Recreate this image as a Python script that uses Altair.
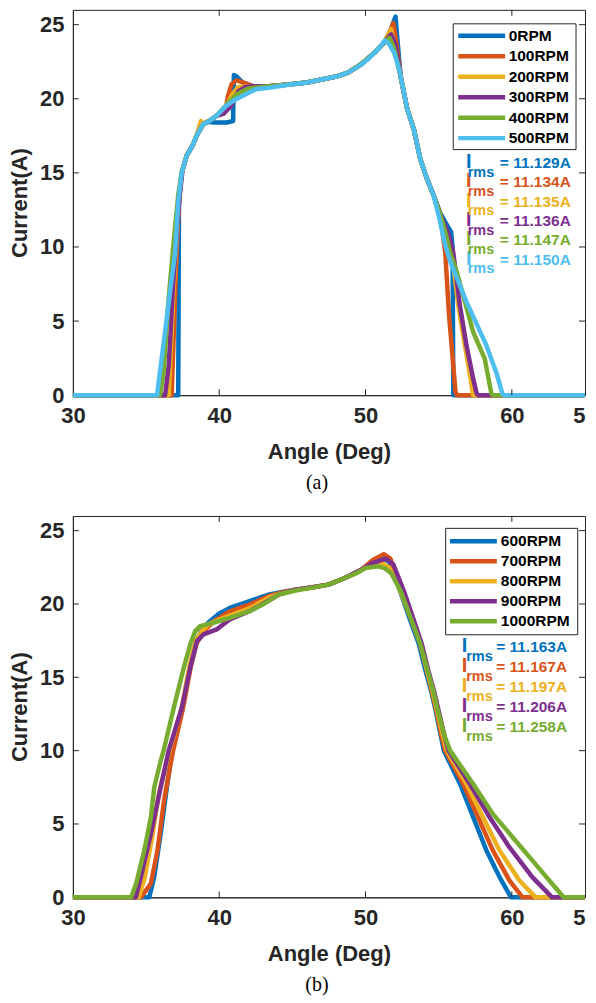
import altair as alt
import pandas as pd

# ---------------- Panel (a) data ----------------
A_NAMES = ["0RPM", "100RPM", "200RPM", "300RPM", "400RPM", "500RPM"]
A_COLORS = ["#0072BD", "#D95319", "#EDB120", "#7E2F8E", "#77AC30", "#4DBEEE"]
A_IRMS = ["= 11.129A", "= 11.134A", "= 11.135A", "= 11.136A", "= 11.147A", "= 11.150A"]

A0_X = [30, 37.2, 37.25, 37.43, 37.77, 38.22, 38.45, 38.9, 39.34, 39.6, 40.5, 40.95, 41.0, 41.2, 41.6, 42.3, 43.4, 44.75, 46.0, 47.0, 48.0, 48.8, 49.7, 50.6, 51.28, 51.7, 52.05, 52.18, 52.4, 52.85, 53.3, 53.75, 54.2, 54.65, 55.1, 55.5, 55.85, 55.95, 56.0, 65]
A0_Y = [0, 0, 13.0, 15.0, 16.15, 16.93, 17.5, 18.28, 18.45, 18.4, 18.4, 18.5, 21.6, 21.5, 21.1, 20.85, 20.85, 20.97, 21.1, 21.3, 21.5, 21.76, 22.33, 23.1, 23.8, 24.6, 25.55, 24.0, 21.5, 19.3, 17.95, 15.9, 14.6, 13.5, 12.3, 11.6, 11.0, 10.0, 0, 0]

A1_X = [30, 36.75, 37.1, 37.25, 37.43, 37.77, 38.22, 38.45, 38.9, 39.34, 39.8, 40.3, 40.45, 40.6, 40.85, 41.2, 41.6, 42.3, 43.4, 44.75, 46.0, 47.0, 48.0, 48.8, 49.7, 50.6, 51.28, 51.65, 51.9, 52.05, 52.4, 52.85, 53.3, 53.75, 54.2, 54.65, 55.1, 55.45, 55.7, 56.15, 56.25, 65]
A1_Y = [0, 0, 10.0, 13.0, 15.0, 16.15, 16.93, 17.5, 18.28, 18.51, 18.84, 19.0, 19.3, 20.2, 21.0, 21.25, 21.1, 20.85, 20.85, 20.97, 21.1, 21.3, 21.5, 21.76, 22.33, 23.1, 23.8, 24.5, 25.1, 24.2, 21.5, 19.3, 17.95, 15.9, 14.6, 13.5, 12.2, 9.6, 5.5, 0.2, 0, 0]

A2_X = [30, 36.55, 36.9, 37.15, 37.3, 37.43, 37.77, 38.22, 38.45, 38.75, 38.9, 39.1, 39.34, 39.8, 40.4, 40.9, 41.3, 42.3, 43.4, 44.75, 46.0, 47.0, 48.0, 48.8, 49.7, 50.6, 51.28, 51.75, 52.0, 52.4, 52.85, 53.3, 53.75, 54.2, 54.65, 55.1, 55.45, 55.9, 56.35, 56.8, 57.2, 57.35, 65]
A2_Y = [0, 0, 7.5, 11.5, 13.8, 15.0, 16.15, 16.93, 17.5, 18.5, 18.3, 18.45, 18.51, 18.84, 19.3, 20.3, 20.8, 20.85, 20.85, 20.97, 21.1, 21.3, 21.5, 21.76, 22.33, 23.1, 23.8, 24.7, 23.5, 21.5, 19.3, 17.95, 15.9, 14.6, 13.5, 12.2, 11.0, 9.6, 6.0, 3.3, 1.0, 0, 0]

A3_X = [30, 36.3, 36.55, 36.85, 37.1, 37.3, 37.5, 37.8, 38.22, 38.45, 38.9, 39.34, 39.8, 40.3, 40.8, 41.3, 41.8, 42.3, 43.4, 44.75, 46.0, 47.0, 48.0, 48.8, 49.7, 50.6, 51.28, 51.75, 52.05, 52.4, 52.85, 53.3, 53.75, 54.2, 54.65, 55.1, 55.5, 55.75, 56.0, 56.45, 56.9, 57.36, 57.6, 57.7, 65]
A3_Y = [0, 0, 2.0, 7.5, 11.0, 13.5, 15.2, 16.2, 16.93, 17.5, 18.28, 18.51, 18.84, 19.0, 19.5, 20.5, 20.8, 20.85, 20.85, 20.97, 21.1, 21.3, 21.5, 21.76, 22.33, 23.1, 23.8, 24.35, 23.6, 21.5, 19.3, 17.95, 15.9, 14.6, 13.5, 12.2, 11.3, 10.6, 9.6, 6.04, 3.35, 1.1, 0.1, 0, 0]

A4_X = [30, 35.95, 36.2, 36.5, 36.9, 37.2, 37.43, 37.77, 38.22, 38.45, 38.9, 39.34, 39.8, 40.5, 41.2, 42.0, 43.4, 44.75, 46.0, 47.0, 48.0, 48.8, 49.7, 50.6, 51.28, 51.65, 51.95, 52.4, 52.85, 53.3, 53.75, 54.2, 54.65, 55.1, 55.45, 55.8, 56.24, 57.36, 58.15, 58.6, 58.7, 65]
A4_Y = [0, 0, 1.5, 6.0, 10.5, 13.5, 15.0, 16.15, 16.93, 17.5, 18.28, 18.51, 18.84, 19.6, 20.3, 20.7, 20.85, 20.97, 21.1, 21.3, 21.5, 21.76, 22.33, 23.1, 23.8, 24.1, 23.4, 21.5, 19.3, 17.95, 15.9, 14.6, 13.5, 12.2, 11.0, 9.6, 8.3, 4.25, 2.45, 0.1, 0, 0]

A5_X = [30, 35.75, 36.98, 37.2, 37.43, 37.77, 38.22, 38.45, 38.9, 39.34, 39.8, 40.47, 41.15, 42.05, 42.5, 43.4, 44.75, 46.0, 47.0, 48.0, 48.8, 49.7, 50.15, 50.6, 51.0, 51.33, 51.6, 51.96, 52.3, 52.85, 53.3, 53.75, 54.2, 54.65, 55.05, 55.45, 55.8, 56.9, 58.2, 58.95, 59.35, 59.45, 65]
A5_Y = [0, 0, 9.6, 13.0, 15.0, 16.15, 16.93, 17.5, 18.28, 18.51, 18.84, 19.52, 19.97, 20.42, 20.64, 20.75, 20.95, 21.1, 21.3, 21.5, 21.76, 22.3, 22.66, 23.1, 23.5, 23.94, 23.7, 23.1, 22.0, 19.3, 17.95, 15.9, 14.6, 13.5, 11.9, 10.1, 9.0, 6.3, 3.5, 1.5, 0.1, 0, 0]

# ---------------- Panel (b) data ----------------
B_NAMES = ["600RPM", "700RPM", "800RPM", "900RPM", "1000RPM"]
B_COLORS = ["#0072BD", "#D95319", "#EDB120", "#7E2F8E", "#77AC30"]
B_IRMS = ["= 11.163A", "= 11.167A", "= 11.197A", "= 11.206A", "= 11.258A"]

B0_X = [30, 35.22, 35.56, 36.0, 36.45, 36.79, 37.5, 38.0, 38.4, 38.85, 39.37, 40.0, 40.72, 42.07, 43.42, 44.55, 45.22, 46.3, 47.46, 48.59, 49.72, 50.5, 51.2, 51.6, 52.0, 52.35, 53.0, 53.65, 54.1, 54.5, 54.8, 55.15, 55.35, 56.46, 57.36, 58.26, 59.16, 59.94, 65]
B0_Y = [0, 0, 1.4, 4.33, 7.7, 10.0, 13.0, 15.7, 17.4, 18.3, 18.83, 19.35, 19.73, 20.19, 20.65, 20.87, 20.98, 21.12, 21.32, 21.77, 22.34, 22.9, 23.1, 22.9, 22.0, 20.9, 19.05, 17.25, 15.43, 14.0, 12.7, 11.0, 10.0, 7.73, 5.46, 3.2, 1.38, 0, 0]

B1_X = [30, 34.65, 35.33, 35.78, 36.23, 36.68, 36.85, 37.55, 38.05, 38.45, 38.9, 39.6, 40.72, 42.07, 43.42, 44.55, 45.22, 46.3, 47.46, 48.59, 49.72, 50.5, 51.25, 51.7, 52.1, 52.45, 53.1, 53.75, 54.2, 54.55, 54.85, 55.2, 55.45, 56.68, 57.69, 58.7, 59.83, 60.73, 65]
B1_Y = [0, 0, 0.93, 3.2, 6.6, 9.1, 10.0, 13.0, 15.7, 17.3, 18.1, 18.8, 19.5, 19.96, 20.55, 20.85, 20.98, 21.12, 21.32, 21.77, 22.34, 23.0, 23.4, 23.1, 22.0, 20.9, 19.05, 17.25, 15.43, 14.0, 12.7, 11.0, 10.0, 7.73, 5.46, 3.2, 1.16, 0, 0]

B2_X = [30, 34.5, 34.9, 35.4, 35.9, 36.6, 37.45, 37.95, 38.4, 38.85, 39.4, 40.72, 42.07, 43.42, 44.55, 45.22, 46.3, 47.46, 48.59, 49.72, 50.5, 51.1, 51.6, 52.0, 52.4, 53.1, 53.76, 54.21, 54.6, 54.9, 55.3, 55.56, 56.9, 58.03, 59.16, 60.5, 61.63, 65]
B2_Y = [0, 0, 1.3, 4.0, 7.2, 10.0, 13.0, 15.7, 17.5, 18.2, 18.7, 19.2, 19.7, 20.45, 20.8, 20.98, 21.12, 21.32, 21.77, 22.34, 22.7, 22.8, 22.5, 21.8, 20.8, 19.05, 17.25, 15.43, 14.0, 12.7, 11.0, 10.0, 7.73, 5.46, 3.2, 1.16, 0, 0]

B3_X = [30, 34.3, 34.65, 35.33, 36.0, 36.55, 37.45, 38.02, 38.48, 38.93, 39.83, 40.72, 42.07, 42.97, 44.09, 45.22, 46.3, 47.46, 48.59, 49.72, 50.5, 51.4, 51.9, 52.3, 52.65, 53.25, 53.85, 54.3, 54.7, 55.0, 55.4, 55.67, 57.13, 58.48, 59.83, 61.4, 62.75, 65]
B3_Y = [0, 0, 1.4, 4.33, 7.5, 10.0, 12.94, 15.66, 17.47, 17.93, 18.27, 18.94, 19.51, 20.0, 20.65, 20.98, 21.12, 21.32, 21.77, 22.34, 22.8, 23.1, 22.7, 21.7, 20.8, 19.05, 17.25, 15.43, 14.0, 12.7, 11.0, 10.0, 7.73, 5.46, 3.42, 1.38, 0, 0]

B4_X = [30, 33.98, 34.32, 34.88, 35.33, 35.56, 36.0, 36.2, 36.9, 37.58, 38.02, 38.36, 38.7, 39.6, 40.72, 42.07, 42.97, 44.09, 45.22, 46.3, 47.46, 48.59, 49.4, 50.0, 50.84, 51.29, 51.74, 52.41, 53.09, 53.76, 54.25, 54.65, 54.95, 55.4, 55.78, 57.36, 58.7, 60.05, 61.4, 62.75, 63.54, 65]
B4_Y = [0, 0, 0.93, 3.2, 5.46, 7.5, 9.3, 10.0, 12.94, 15.66, 17.25, 18.15, 18.49, 18.72, 19.05, 19.51, 19.96, 20.65, 20.92, 21.1, 21.32, 21.77, 22.1, 22.45, 22.57, 22.45, 22.11, 20.87, 19.05, 17.25, 15.43, 14.0, 12.7, 11.0, 10.0, 7.73, 5.69, 4.1, 2.52, 0.93, 0, 0]

X_TICKS = [30, 40, 50, 60, 65]
Y_TICKS = [0, 5, 10, 15, 20, 25]
INNER_X_TICKS = [40, 50, 60]
INNER_Y_TICKS = [5, 10, 15, 20, 25]

AXIS_COLOR = "#262626"
FONT = "Liberation Sans"


def panel(xs_list, ys_list, names, colors, irms, W, H, lay, caption, cap_offset):
    xscale = alt.Scale(domain=[30, 65], nice=False, zero=False)
    yscale = alt.Scale(domain=[0, 26], nice=False, zero=False)
    xaxis = alt.Axis(values=X_TICKS, labelExpr="datum.value == 65 ? '5' : datum.label",
                     labelAlign={"condition": {"test": "datum.value == 65", "value": "right"}, "value": "center"},
                     labelFlush=False, labelOverlap=False, ticks=False, grid=False,
                     domainColor=AXIS_COLOR, domainWidth=1,
                     labelFont=FONT, labelFontSize=22, labelFontWeight="bold", labelColor=AXIS_COLOR,
                     labelPadding=10, titleFont=FONT, titleFontSize=22, titleFontWeight="bold",
                     titleColor=AXIS_COLOR, titlePadding=15)
    yaxis = alt.Axis(values=Y_TICKS, ticks=False, grid=False, domainColor=AXIS_COLOR, domainWidth=1,
                     labelFont=FONT, labelFontSize=22, labelFontWeight="bold", labelColor=AXIS_COLOR,
                     labelPadding=9, titleFont=FONT, titleFontSize=22, titleFontWeight="bold",
                     titleColor=AXIS_COLOR, titlePadding=8)
    layers = []
    for k, (xs, ys, c) in enumerate(zip(xs_list, ys_list, colors)):
        df = pd.DataFrame({"x": xs, "y": ys, "i": list(range(len(xs)))})
        layers.append(
            alt.Chart(df).mark_line(color=c, strokeWidth=4.5, strokeJoin="round").encode(
                x=alt.X("x:Q", scale=xscale, axis=xaxis, title="Angle (Deg)"),
                y=alt.Y("y:Q", scale=yscale, axis=yaxis if k == 0 else None, title="Current(A)"),
                order=alt.Order("i:Q"),
            )
        )
    # inward ticks (bottom/top/left/right)
    xt = pd.DataFrame({"v": INNER_X_TICKS})
    yt = pd.DataFrame({"v": INNER_Y_TICKS})
    for y0, y1 in [(H, H - 6), (0, 6)]:
        layers.append(alt.Chart(xt).mark_rule(color=AXIS_COLOR, strokeWidth=1).encode(
            x=alt.X("v:Q", scale=xscale, axis=xaxis, title="Angle (Deg)"),
            y=alt.value(y0), y2=alt.value(y1)))
    for x0, x1 in [(0, 6), (W - 6, W)]:
        layers.append(alt.Chart(yt).mark_rule(color=AXIS_COLOR, strokeWidth=1).encode(
            y=alt.Y("v:Q", scale=yscale, axis=None),
            x=alt.value(x0), x2=alt.value(x1)))
    # legend box
    bx0, bx1, by0, by1 = lay["box"]
    layers.append(alt.Chart(pd.DataFrame({"a": [0]})).mark_rect(
        fill="white", stroke=AXIS_COLOR, strokeWidth=1).encode(
        x=alt.value(bx0), x2=alt.value(bx1), y=alt.value(by0), y2=alt.value(by1)))
    ldf = pd.DataFrame({"name": names, "color": colors, "irms": irms})
    rowscale = alt.Scale(type="point", domain=names, range=lay["rows"], padding=0)
    layers.append(alt.Chart(ldf).mark_rule(strokeWidth=4.5).encode(
        y=alt.Y("name:N", scale=rowscale, axis=None),
        x=alt.value(lay["lx0"]), x2=alt.value(lay["lx1"]),
        color=alt.Color("color:N", scale=None)))
    layers.append(alt.Chart(ldf).mark_text(
        align="left", baseline="middle", font=FONT, fontSize=15.5, fontWeight="bold", color="black").encode(
        y=alt.Y("name:N", scale=rowscale, axis=None),
        x=alt.value(lay["tx"]), text="name:N"))
    # Irms annotations
    iscale = alt.Scale(type="point", domain=names, range=lay["irows"], padding=0)
    sscale = alt.Scale(type="point", domain=names, range=lay["srows"], padding=0)
    layers.append(alt.Chart(ldf).mark_text(
        align="center", baseline="alphabetic", font=FONT, fontSize=20, fontWeight="bold").encode(
        y=alt.Y("name:N", scale=iscale, axis=None), x=alt.value(lay["ix"]),
        text=alt.value("I"), color=alt.Color("color:N", scale=None)))
    layers.append(alt.Chart(ldf).mark_text(
        align="left", baseline="alphabetic", font=FONT, fontSize=14.5, fontWeight="bold").encode(
        y=alt.Y("name:N", scale=sscale, axis=None), x=alt.value(lay["sx"]),
        text=alt.value("rms"), color=alt.Color("color:N", scale=None)))
    layers.append(alt.Chart(ldf).mark_text(
        align="left", baseline="alphabetic", font=FONT, fontSize=15.5, fontWeight="bold").encode(
        y=alt.Y("name:N", scale=iscale, axis=None), x=alt.value(lay["ex"]),
        text="irms:N", color=alt.Color("color:N", scale=None)))
    return alt.layer(*layers).resolve_scale(y="independent").properties(
        width=W, height=H,
        title=alt.TitleParams(text=caption, orient="bottom", anchor="middle", font="Liberation Serif",
                              fontSize=20, fontWeight="normal", color="black", offset=cap_offset, dx=-12))


lay_a = dict(box=(381, 504, 14, 140), rows=[26, 128.5], lx0=386, lx1=433, tx=436.5,
             irows=[158.5, 255.3], srows=[167, 263.8], ix=396.5, sx=395.5, ex=427.7)
lay_b = dict(box=(373.4, 505.7, 12.4, 119), rows=[25.4, 105.4], lx0=377.7, lx1=424.7, tx=428.7,
             irows=[136.5, 216.5], srows=[145, 225], ix=392.4, sx=394, ex=424)

PW = 513
pa = panel([A0_X, A1_X, A2_X, A3_X, A4_X, A5_X], [A0_Y, A1_Y, A2_Y, A3_Y, A4_Y, A5_Y],
           A_NAMES, A_COLORS, A_IRMS, PW, 386, lay_a, "(a)", 11)
pb = panel([B0_X, B1_X, B2_X, B3_X, B4_X], [B0_Y, B1_Y, B2_Y, B3_Y, B4_Y],
           B_NAMES, B_COLORS, B_IRMS, PW, 382, lay_b, "(b)", 11)

chart = alt.vconcat(pa, pb, spacing=21).properties(
    padding={"left": 0, "top": 0, "right": 0, "bottom": 0}, background="white"
).configure_view(stroke=AXIS_COLOR, strokeWidth=1)

chart.save("out.html", embed_options={"renderer": "svg", "actions": False})
